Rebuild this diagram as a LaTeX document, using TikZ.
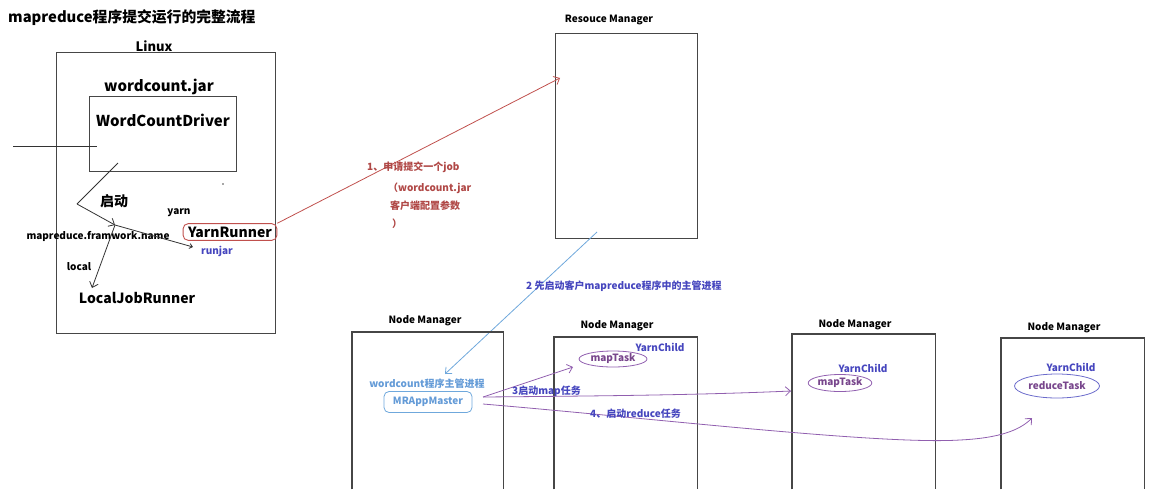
\documentclass[tikz,border=0pt]{standalone}
\usepackage{fontspec}
\setmainfont{Noto Sans CJK SC}
\usetikzlibrary{arrows.meta,shapes.geometric}
\definecolor{boxgray}{RGB}{70,70,70}
\definecolor{redline}{RGB}{192,80,77}
\definecolor{redtext}{RGB}{176,72,70}
\definecolor{lblue}{RGB}{111,168,220}
\definecolor{lbluetext}{RGB}{100,155,215}
\definecolor{dblue}{RGB}{70,70,190}
\definecolor{purp}{RGB}{145,95,175}
\definecolor{purptext}{RGB}{120,70,140}
\tikzset{
  boxn/.style={draw=boxgray, line width=1.1pt, anchor=north west, inner sep=0pt},
  openbox/.style={anchor=north west, inner sep=0pt},
  openline/.style={draw=boxgray, line width=1.1pt},
  lbl/.style={font=\bfseries, inner sep=1pt},
  small/.style={lbl, font=\fontsize{10}{12}\selectfont\bfseries},
  hand/.style={draw=black!80, line width=0.8pt},
  barb/.style={-{Straight Barb[length=5pt,width=9pt]}},
}
\begin{document}
\begin{tikzpicture}[x=1pt,y=-1pt]
\useasboundingbox (0,0) rectangle (1155,498);
% title
\node[lbl, anchor=west, font=\fontsize{14.8}{17}\selectfont\bfseries] (title) at (7,18) {mapreduce程序提交运行的完整流程};
% Linux box
\node[boxn, minimum width=219pt, minimum height=281pt] (linux) at (56,52) {};
\node[lbl, font=\fontsize{13}{15}\selectfont\bfseries] (linuxlbl) at (154,46) {Linux};
\node[lbl, font=\fontsize{15}{17}\selectfont\bfseries] (jar) at (159,87) {wordcount.jar};
\node[boxn, minimum width=147pt, minimum height=75pt] (drvbox) at (89,96) {};
\node[lbl, font=\fontsize{15}{17}\selectfont\bfseries] (wcd) at (163,120) {WordCountDriver};
\coordinate (inl) at (13,146);
\coordinate (inr) at (97,146);
\draw[hand] (inl) -- (inr);
\coordinate (d1) at (118,163);
\coordinate (corner) at (77,204);
\coordinate (j) at (115,225);
\draw[hand] (d1) -- (corner);
\draw[hand, barb] (corner) -- (j);
\node[lbl, font=\fontsize{14}{16}\selectfont\bfseries] (qd) at (114,201) {启动};
\node[small] (yarn) at (179,213) {yarn};
\node[small] (fw) at (98,236) {mapreduce.framwork.name};
\node[small] (local) at (79,267) {local};
\node[lbl, font=\fontsize{14}{16}\selectfont\bfseries] (ljr) at (137,298) {LocalJobRunner};
\node[lbl, font=\fontsize{14}{16}\selectfont\bfseries, draw=redline, line width=0.9pt, rounded corners=5pt, inner xsep=5pt, inner ysep=3pt] (yr) at (230,232) {YarnRunner};
\node[small, text=dblue] (runjar) at (217,251) {runjar};
\coordinate (yend) at (193,247);
\draw[hand, -{Straight Barb[length=3pt,width=5pt]}] (j) -- (yend);
\coordinate (lend) at (92,288);
\draw[hand, barb] (j) -- (lend);
\fill[black!70] (223,184) circle (0.8pt);
% Resource manager
\node[small] (rmlbl) at (609,20) {Resouce Manager};
\node[boxn, minimum width=142pt, minimum height=205pt] (rm) at (555,33) {};
\coordinate (rmin) at (560,78);
\draw[draw=redline, line width=0.8pt, barb] (yr.north east) -- (rmin);
\node[small, text=redtext, anchor=west] (t1a) at (366,167) {1、申请提交一个job};
\node[small, text=redtext, anchor=west] (t1b) at (387,188) {（wordcount.jar};
\node[small, text=redtext, anchor=west] (t1c) at (389,206) {客户端配置参数};
\node[small, text=redtext, anchor=west] (t1d) at (391,224) {）};
% step 2
\coordinate (bstart) at (597,232);
\coordinate (bend) at (445,374);
\draw[draw=lblue, line width=0.8pt, barb] (bstart) -- (bend);
\node[small, text=dblue, anchor=west] (t2) at (525,286) {2 先启动客户mapreduce程序中的主管进程};
% Node managers
\node[openbox, minimum width=151pt, minimum height=157pt] (nm1) at (352,332) {};
\node[openbox, minimum width=143pt, minimum height=152pt] (nm2) at (554,337) {};
\node[openbox, minimum width=143pt, minimum height=155pt] (nm3) at (792,334) {};
\node[openbox, minimum width=143pt, minimum height=151pt] (nm4) at (1001,338) {};
\foreach \n in {nm1,nm2,nm3,nm4}{
  \draw[openline] (\n.south west) -- (\n.north west) -- (\n.north east) -- (\n.south east);
}
\node[small] (nm1lbl) at (425,321) {Node Manager};
\node[small] (nm2lbl) at (617,326) {Node Manager};
\node[small] (nm3lbl) at (855,325) {Node Manager};
\node[small] (nm4lbl) at (1064,328) {Node Manager};
% NM1 content
\node[small, text=lbluetext] (wcm) at (427,384) {wordcount程序主管进程};
\node[small, text=lbluetext, draw=lblue, line width=0.8pt, rounded corners=5pt, minimum width=88pt, minimum height=21pt] (mr) at (428,402) {MRAppMaster};
% NM2 content
\node[small, text=dblue] (yc2) at (660,347) {YarnChild};
\node[ellipse, draw=purp, line width=0.8pt, font=\fontsize{10}{12}\selectfont\bfseries, text=purptext, minimum width=68pt, minimum height=16pt, inner sep=0pt] (mt2) at (613,359) {mapTask};
% NM3 content
\node[small, text=dblue] (yc3) at (863,368) {YarnChild};
\node[ellipse, draw=purp, line width=0.8pt, font=\fontsize{10}{12}\selectfont\bfseries, text=purptext, minimum width=62pt, minimum height=17pt, inner sep=0pt] (mt3) at (840,383) {mapTask};
% NM4 content
\node[small, text=dblue] (yc4) at (1071,367) {YarnChild};
\node[ellipse, draw=dblue!80, line width=0.8pt, font=\fontsize{10}{12}\selectfont\bfseries, text=purptext, minimum width=85pt, minimum height=24pt, inner sep=0pt] (rt4) at (1057,386) {reduceTask};
% purple arrows
\coordinate (m1) at (483,397);
\coordinate (m2) at (483,404);
\coordinate (a2) at (573,367);
\coordinate (a3) at (791,391);
\coordinate (a4) at (1032,418);
\draw[draw=purp, line width=0.8pt, barb] (m1) -- (a2);
\draw[draw=purp, line width=0.8pt, barb] (m1) .. controls (600,396) and (700,395) .. (a3);
\draw[draw=purp, line width=0.8pt, barb] (m2) .. controls (650,418) and (880,445) .. (960,440) .. controls (1000,438) and (1020,430) .. (a4);
\node[small, text=dblue, anchor=west] (t3) at (511,391) {3启动map任务};
\node[small, text=dblue, anchor=west] (t4) at (589,414) {4、启动reduce任务};
\end{tikzpicture}
\end{document}
